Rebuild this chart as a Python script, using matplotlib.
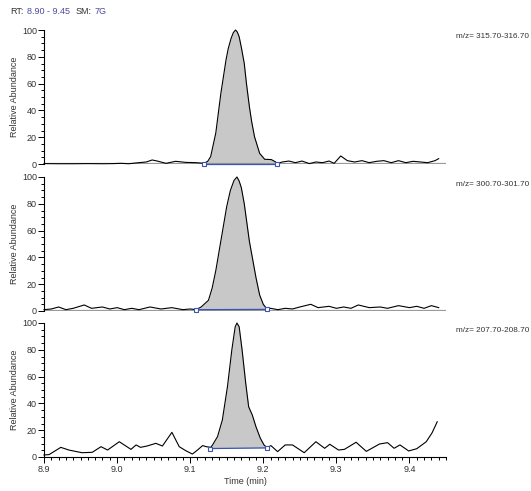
import matplotlib
matplotlib.use("Agg")
import matplotlib.pyplot as plt
import numpy as np
from matplotlib.ticker import MultipleLocator

plt.rcParams['font.family'] = ['Liberation Sans', 'DejaVu Sans']

# ---------------- data ----------------
t_top = [8.900, 8.920, 8.940, 8.960, 8.980, 8.995, 9.005, 9.016, 9.030, 9.040, 9.048,
         9.055, 9.067, 9.080, 9.094, 9.108, 9.119, 9.124, 9.128, 9.135, 9.142, 9.149,
         9.152, 9.156, 9.159, 9.162, 9.1645, 9.167, 9.170, 9.174, 9.177, 9.181, 9.184,
         9.188, 9.195, 9.202, 9.211, 9.217, 9.219, 9.226, 9.235, 9.244, 9.253, 9.263,
         9.272, 9.281, 9.290, 9.297, 9.306, 9.315, 9.325, 9.335, 9.345, 9.355, 9.365,
         9.375, 9.385, 9.395, 9.405, 9.415, 9.425, 9.435, 9.440]
y_top = [0.3, 0.2, 0.2, 0.3, 0.2, 0.3, 0.5, 0.2, 1.0, 1.5, 3.0,
         2.2, 0.5, 2.0, 1.2, 1.0, 0.5, 2.0, 5.5, 23.0, 52.8, 77.6,
         86.0, 93.8, 98.0, 100.0, 98.5, 95.0, 87.0, 75.0, 60.0, 42.8, 32.0,
         20.4, 8.0, 3.5, 3.3, 1.5, 0.3, 1.5, 2.2, 1.0, 2.2, 0.3,
         1.5, 1.0, 2.2, 0.5, 6.0, 2.5, 1.5, 2.5, 1.0, 2.0, 2.5,
         1.0, 2.5, 1.0, 2.0, 1.5, 1.0, 2.5, 4.0]
mk_top_t = [9.119, 9.219]
mk_top_y = [0.3, 0.3]

t_mid = [8.900, 8.910, 8.920, 8.930, 8.940, 8.955, 8.965, 8.980, 8.990, 9.000, 9.010,
         9.020, 9.030, 9.045, 9.060, 9.075, 9.090, 9.100, 9.108, 9.115, 9.125, 9.130,
         9.135, 9.140, 9.145, 9.150, 9.155, 9.160, 9.164, 9.167, 9.170, 9.174, 9.177,
         9.181, 9.185, 9.190, 9.195, 9.200, 9.205, 9.210, 9.220, 9.230, 9.240, 9.250,
         9.265, 9.275, 9.290, 9.300, 9.310, 9.320, 9.330, 9.345, 9.360, 9.370, 9.385,
         9.400, 9.410, 9.420, 9.430, 9.440]
y_mid = [1.0, 1.5, 3.0, 1.0, 2.0, 4.5, 2.0, 3.0, 1.5, 2.5, 1.0,
         2.0, 1.0, 3.0, 1.5, 2.5, 1.0, 1.5, 1.0, 3.0, 8.0, 17.0,
         30.0, 46.0, 62.0, 78.0, 90.0, 97.5, 100.0, 97.0, 92.0, 80.0, 68.0,
         52.0, 40.0, 25.0, 12.0, 5.0, 1.5, 2.0, 1.0, 2.0, 1.5, 3.0,
         5.0, 2.5, 3.5, 2.0, 3.0, 2.0, 4.5, 2.5, 3.0, 2.0, 4.0,
         2.5, 3.5, 2.0, 4.0, 2.5]
mk_mid_t = [9.108, 9.205]
mk_mid_y = [1.0, 1.2]

t_bot = [8.900, 8.907, 8.923, 8.934, 8.952, 8.966, 8.978, 8.987, 9.003, 9.019, 9.026,
         9.032, 9.041, 9.053, 9.062, 9.075, 9.085, 9.094, 9.103, 9.110, 9.117, 9.122,
         9.128, 9.1306, 9.1374, 9.144, 9.151, 9.157, 9.1616, 9.164, 9.167, 9.171, 9.176,
         9.180, 9.185, 9.190, 9.196, 9.201, 9.205, 9.2105, 9.2196, 9.230, 9.240, 9.256,
         9.272, 9.284, 9.291, 9.303, 9.311, 9.327, 9.341, 9.359, 9.370, 9.379, 9.387,
         9.399, 9.410, 9.423, 9.431, 9.438]
y_bot = [1.5, 1.8, 7.2, 5.2, 3.2, 3.5, 7.7, 5.2, 11.4, 5.7, 9.0,
         7.2, 8.2, 10.2, 8.2, 18.4, 7.7, 4.7, 2.2, 5.2, 8.5, 7.7,
         7.2, 9.0, 15.2, 27.6, 52.5, 80.0, 97.2, 100.0, 97.2, 80.0, 55.0,
         37.5, 31.3, 22.6, 14.0, 9.0, 7.0, 8.5, 4.0, 9.0, 9.0, 3.2,
         11.4, 6.5, 9.5, 5.2, 5.7, 11.0, 4.2, 9.7, 10.7, 6.5, 9.0,
         4.5, 6.2, 11.4, 18.1, 26.3]
mk_bot_t = [9.127, 9.205]
mk_bot_y = [6.3, 6.8]

mz_labels = ["m/z= 315.70-316.70", "m/z= 300.70-301.70", "m/z= 207.70-208.70"]
x_ticks = [8.9, 9.0, 9.1, 9.2, 9.3, 9.4]
y_ticks = [0, 20, 40, 60, 80, 100]

# ---------------- figure ----------------
W, H = 531, 491
fig = plt.figure(figsize=(W / 100, H / 100), dpi=100)

def frac_box(top_px, bot_px):
    left = 44 / W
    width = (446 - 44) / W
    return [left, 1 - bot_px / H, width, (bot_px - top_px) / H]

boxes = [frac_box(30, 164), frac_box(177, 311), frac_box(323, 457)]
label_y_px = [37, 184, 330]
panels = [(t_top, y_top, mk_top_t, mk_top_y),
          (t_mid, y_mid, mk_mid_t, mk_mid_y),
          (t_bot, y_bot, mk_bot_t, mk_bot_y)]

fs = 6.5
tick_col = '#333333'
blue = '#3a55b0'

for i, (box, (t, y, mt, my)) in enumerate(zip(boxes, panels)):
    ax = fig.add_axes(box)
    t = np.asarray(t); y = np.asarray(y)
    ax.set_xlim(8.9, 9.45)
    ax.set_ylim(0, 100)
    # integrated area
    sel = (t >= mt[0]) & (t <= mt[1])
    ts = np.concatenate(([mt[0]], t[sel], [mt[1]]))
    ys = np.concatenate(([my[0]], y[sel], [my[1]]))
    base = np.interp(ts, mt, my)
    ax.fill_between(ts, base, ys, color='#c8c8c8', lw=0, zorder=1)
    if i < 2:
        ax.axhline(0, color='#9a9a9a', lw=1.6, zorder=1.5)
    ax.plot(t, y, color='black', lw=0.8, zorder=3, clip_on=False)
    ax.plot(mt, my, color=blue, lw=0.9, zorder=4, marker='s', ms=3.2,
            mfc='white', mec=blue, mew=0.8, clip_on=False)

    for s in ['top', 'right']:
        ax.spines[s].set_visible(False)
    ax.spines['left'].set_linewidth(0.8)
    ax.spines['bottom'].set_linewidth(0.8)
    ax.set_yticks(y_ticks)
    ax.yaxis.set_minor_locator(MultipleLocator(5))
    ax.tick_params(axis='y', which='major', length=4, width=0.7, labelsize=fs,
                   labelcolor=tick_col, pad=1)
    ax.tick_params(axis='y', which='minor', length=2.5, width=0.7)
    ax.set_ylabel('Relative Abundance', fontsize=fs, color=tick_col, labelpad=2)
    if i < 2:
        ax.spines['bottom'].set_visible(False)
        ax.set_xticks([])
    else:
        ax.set_xticks(x_ticks)
        ax.set_xticklabels([f"{v:.1f}" for v in x_ticks])
        ax.xaxis.set_minor_locator(MultipleLocator(0.01))
        ax.tick_params(axis='x', which='major', length=4, width=0.7, labelsize=fs,
                       labelcolor=tick_col, pad=2)
        ax.tick_params(axis='x', which='minor', length=2.5, width=0.7)
        ax.set_xlabel('Time (min)', fontsize=fs, color=tick_col, labelpad=2)
    ax.patch.set_alpha(0)
    fig.text(529 / W, 1 - label_y_px[i] / H, mz_labels[i], fontsize=5.9,
             color=tick_col, ha='right', va='center')

# header
fig.text(10 / W, 1 - 12 / H, 'RT:', fontsize=fs, color=tick_col, va='center')
fig.text(27 / W, 1 - 12 / H, '8.90 - 9.45', fontsize=fs, color='#4b4b9b', va='center')
fig.text(76 / W, 1 - 12 / H, 'SM:', fontsize=fs, color=tick_col, va='center')
fig.text(95 / W, 1 - 12 / H, '7G', fontsize=fs, color='#4b4b9b', va='center')

fig.savefig('out.png', dpi=100)
